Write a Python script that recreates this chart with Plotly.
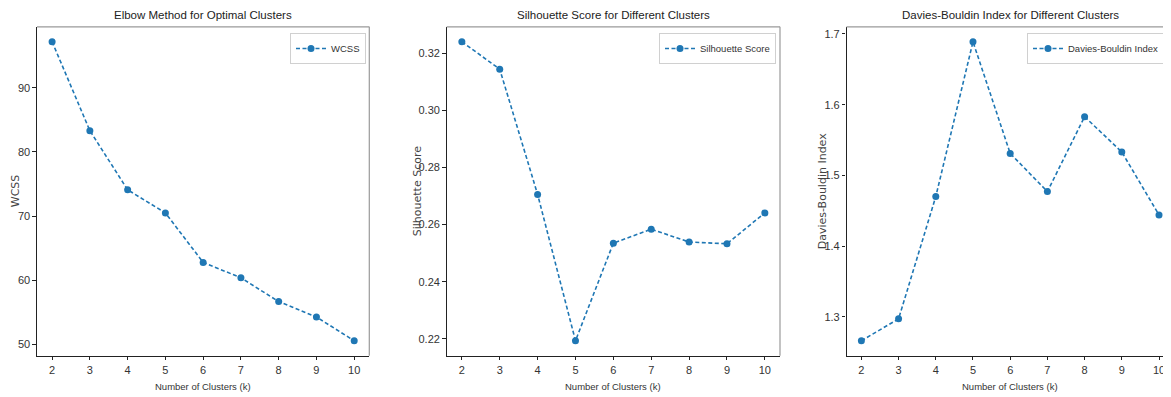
import plotly.graph_objects as go

k_values = [2, 3, 4, 5, 6, 7, 8, 9, 10]
wcss = [97.15, 83.3, 74.1, 70.5, 62.8, 60.4, 56.7, 54.3, 50.6]
silhouette = [0.3241, 0.3145, 0.2706, 0.2193, 0.2535, 0.2584, 0.2539, 0.2533, 0.2641]
davies_bouldin = [1.266, 1.297, 1.470, 1.689, 1.531, 1.477, 1.583, 1.533, 1.444]

titles = ["Elbow Method for Optimal Clusters",
          "Silhouette Score for Different Clusters",
          "Davies-Bouldin Index for Different Clusters"]
ylabels = ["WCSS", "Silhouette Score", "Davies-Bouldin Index"]
series_names = ["WCSS", "Silhouette Score", "Davies-Bouldin Index"]
xlabel = "Number of Clusters (k)"

# page body has an 8px margin: the figure is shifted by (8, 8) in the window
OFF = 8
PW, PH = 1171, 397
W, H = PW - OFF, PH - OFF


def px(X):
    return (X - OFF) / W


def py(Y):
    return 1 - (Y - OFF) / H


BLUE = "#1f77b4"
SANS = "Liberation Sans, Arial, sans-serif"
DEJAVU = "DejaVu Sans, sans-serif"

panels_px = [(37, 369.3), (446.7, 780), (846.5, 1171)]
xranges = [[1.6, 10.4], [1.6, 10.4], [1.6, 10 + (1171 - 1159) / 37.2]]
top_px, bot_px = 26.8, 355.7
ydom = [py(bot_px), py(top_px)]
title_cx = [203, 613, 1010]
ylabel_x = [15, 417, 822]
xlabel_cx = [203, 613, 1010]
legend_right = [366, 776, 1165]

datas = [wcss, silhouette, davies_bouldin]
ytick_cfg = [dict(tickvals=[50, 60, 70, 80, 90]),
             dict(tickvals=[0.22, 0.24, 0.26, 0.28, 0.30, 0.32], tickformat=".2f"),
             dict(tickvals=[1.3, 1.4, 1.5, 1.6, 1.7], tickformat=".1f")]

fig = go.Figure()
layout = dict(width=W, height=H, margin=dict(l=0, r=0, t=0, b=0),
              paper_bgcolor="white", plot_bgcolor="white", showlegend=True)
annotations = []
shapes = []

for i in range(3):
    n = "" if i == 0 else str(i + 1)
    lg = "legend" if i == 0 else f"legend{i + 1}"
    fig.add_trace(go.Scatter(
        x=k_values, y=datas[i], mode="lines+markers", name=series_names[i],
        line=dict(color=BLUE, width=1.6, dash="4px,2.5px"),
        marker=dict(color=BLUE, size=7, symbol="circle"),
        xaxis="x" + n, yaxis="y" + n, legend=lg))
    d = datas[i]
    lo, hi = min(d), max(d)
    m = (hi - lo) * 0.05
    l_px, r_px = panels_px[i]
    layout["xaxis" + n] = dict(
        domain=[px(l_px), min(px(r_px), 1.0)], range=xranges[i], anchor="y" + n,
        tickvals=k_values, showgrid=False, zeroline=False,
        showline=True, linecolor="#222", linewidth=1.2, mirror=False,
        ticks="outside", ticklen=3.5, tickwidth=1, tickcolor="#222",
        tickfont=dict(family=SANS, size=11, color="#333"))
    layout["yaxis" + n] = dict(
        domain=ydom, range=[lo - m, hi + m], anchor="x" + n,
        showgrid=False, zeroline=False,
        showline=True, linecolor="#222", linewidth=1.2, mirror=False,
        ticks="outside", ticklen=3.5, tickwidth=1, tickcolor="#222",
        tickfont=dict(family=SANS, size=11, color="#333"), **ytick_cfg[i])
    layout[lg] = dict(
        x=px(legend_right[i]), xanchor="right", y=py(33), yanchor="top",
        bgcolor="white", bordercolor="#d0d0d0", borderwidth=1,
        font=dict(family=SANS, size=9.5, color="#333"),
        itemwidth=30, tracegroupgap=0)
    shapes.append(dict(type="line", xref=f"x{n} domain", yref=f"y{n} domain",
                       x0=0, x1=1, y0=1, y1=1, line=dict(color="#9a9a9a", width=1.2)))
    if i < 2:
        shapes.append(dict(type="line", xref=f"x{n} domain", yref=f"y{n} domain",
                           x0=1, x1=1, y0=0, y1=1, line=dict(color="#9a9a9a", width=1.2)))
    annotations.append(dict(text=titles[i], x=px(title_cx[i]), y=py(15),
                            xref="paper", yref="paper", showarrow=False,
                            xanchor="center", yanchor="middle",
                            font=dict(family=SANS, size=11.5, color="#222")))
    annotations.append(dict(text=xlabel, x=px(xlabel_cx[i]), y=py(386),
                            xref="paper", yref="paper", showarrow=False,
                            xanchor="center", yanchor="middle",
                            font=dict(family=SANS, size=9.5, color="#333")))
    annotations.append(dict(text=ylabels[i], x=px(ylabel_x[i]), y=sum(ydom) / 2,
                            xref="paper", yref="paper", showarrow=False, textangle=-90,
                            xanchor="center", yanchor="middle",
                            font=dict(family=DEJAVU, size=11, color="#444")))

layout["annotations"] = annotations
layout["shapes"] = shapes
fig.update_layout(**layout)
fig.write_html("out.html")
